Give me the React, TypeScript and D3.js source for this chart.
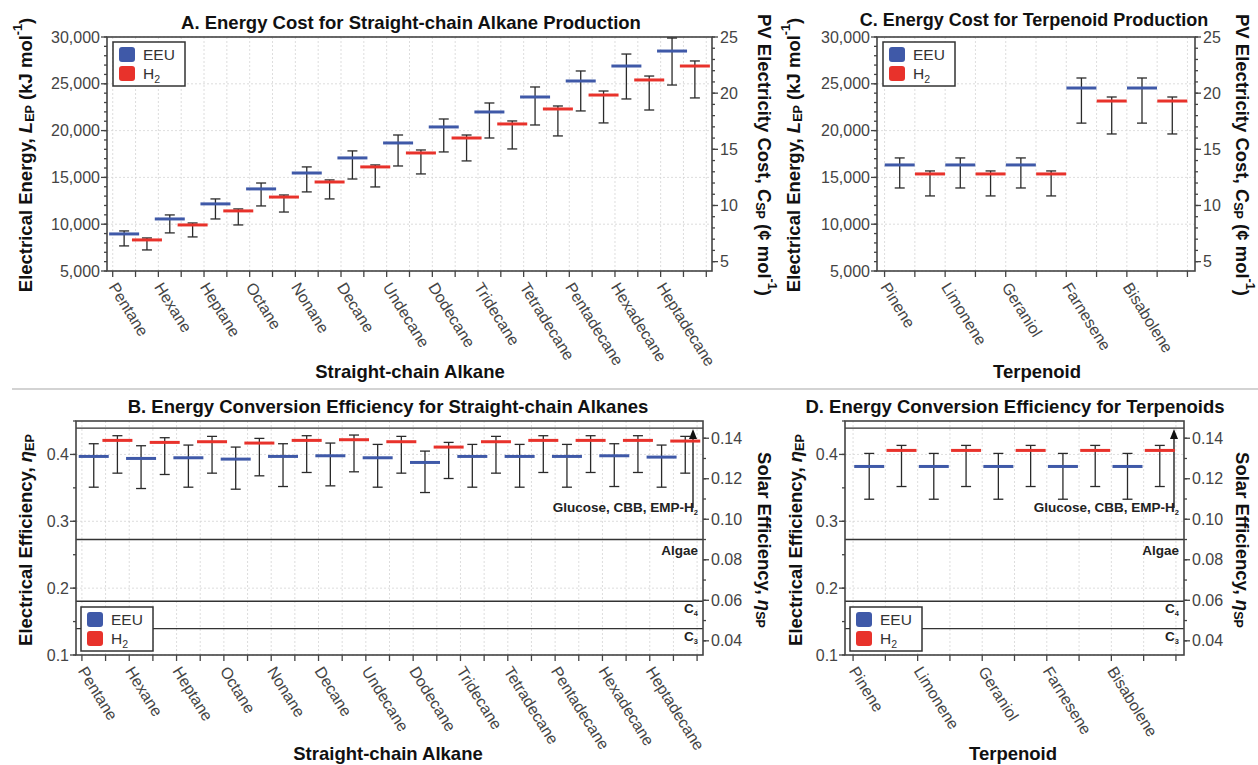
import { useEffect, useRef } from "react";
import * as d3 from "d3";

const alkanes = ["Pentane", "Hexane", "Heptane", "Octane", "Nonane", "Decane", "Undecane", "Dodecane", "Tridecane", "Tetradecane", "Pentadecane", "Hexadecane", "Heptadecane"];
const terpenoids = ["Pinene", "Limonene", "Geraniol", "Farnesene", "Bisabolene"];

// A. electrical energy (kJ/mol)
const alkEeuEnergy = [8960, 10560, 12170, 13770, 15470, 17080, 18680, 20390, 21990, 23590, 25300, 26900, 28500];
const alkEeuEnergyHi = [9280, 10990, 12700, 14400, 16120, 17830, 19530, 21240, 22950, 24660, 26370, 28180, 29890];
const alkEeuEnergyLo = [7680, 9070, 10560, 11950, 13450, 14830, 16220, 17720, 19210, 20600, 22100, 23380, 24870];
const alkH2Energy = [8320, 9920, 11420, 12900, 14510, 16120, 17610, 19210, 20710, 22310, 23800, 25410, 26900];
const alkH2EnergyHi = [8530, 10130, 11630, 13120, 14730, 16330, 17930, 19530, 21030, 22630, 24230, 25830, 27440];
const alkH2EnergyLo = [7250, 8640, 9920, 11300, 12700, 13980, 15370, 16760, 18040, 19430, 20820, 22200, 23490];

// B. electrical efficiency
const alkEeuEff = [0.397, 0.394, 0.395, 0.393, 0.397, 0.398, 0.395, 0.388, 0.397, 0.397, 0.397, 0.398, 0.396];
const alkEeuEffHi = [0.416, 0.413, 0.414, 0.411, 0.416, 0.417, 0.415, 0.405, 0.415, 0.415, 0.415, 0.416, 0.414];
const alkEeuEffLo = [0.351, 0.349, 0.351, 0.348, 0.352, 0.353, 0.351, 0.343, 0.351, 0.351, 0.351, 0.352, 0.351];
const alkH2Eff = [0.421, 0.418, 0.419, 0.417, 0.421, 0.422, 0.419, 0.411, 0.419, 0.421, 0.421, 0.421, 0.420];
const alkH2EffHi = [0.428, 0.425, 0.427, 0.424, 0.428, 0.429, 0.427, 0.418, 0.427, 0.428, 0.428, 0.428, 0.427];
const alkH2EffLo = [0.372, 0.370, 0.372, 0.368, 0.373, 0.374, 0.372, 0.364, 0.372, 0.373, 0.373, 0.373, 0.372];

// C. terpenoid energy
const terEeuEnergy = [16330, 16330, 16330, 24550, 24550];
const terEeuEnergyHi = [17080, 17080, 17080, 25620, 25620];
const terEeuEnergyLo = [13870, 13870, 13870, 20800, 20800];
const terH2Energy = [15370, 15370, 15370, 23160, 23160];
const terH2EnergyHi = [15690, 15690, 15690, 23590, 23590];
const terH2EnergyLo = [13020, 13020, 13020, 19640, 19640];

// D. terpenoid efficiency
const terEeuEff = [0.382, 0.382, 0.382, 0.382, 0.382];
const terEeuEffHi = [0.4015, 0.4015, 0.4015, 0.4015, 0.4015];
const terEeuEffLo = [0.333, 0.333, 0.333, 0.333, 0.333];
const terH2Eff = [0.406, 0.406, 0.406, 0.406, 0.406];
const terH2EffHi = [0.4135, 0.4135, 0.4135, 0.4135, 0.4135];
const terH2EffLo = [0.352, 0.352, 0.352, 0.352, 0.352];

// solar efficiency reference lines
const refNames = ["Glucose, CBB, EMP-H", "Algae", "C", "C"];
const refSubs = ["2", "", "4", "3"];
const refValues = [0.145, 0.09, 0.0595, 0.046];

const energyTicks = [5000, 10000, 15000, 20000, 25000, 30000];
const costTicks = [5, 10, 15, 20, 25];
const effTicks = [0.1, 0.2, 0.3, 0.4];
const solarTicks = [0.04, 0.06, 0.08, 0.1, 0.12, 0.14];

const BLUE = "#3f59a8";
const RED = "#e8322b";
const INK = "#2a2a2a";
const FONT = "'Liberation Sans', Arial, Helvetica, sans-serif";
const TICK_FS = 16;
const HEAD_FS = 18.5;

type Piece = { t: string; it?: boolean; sub?: boolean; sup?: boolean };

function richText(sel: any, pieces: Piece[], size: number) {
  let shift = 0;
  pieces.forEach((p) => {
    const ts = sel.append("tspan").text(p.t);
    let target = 0;
    if (p.sub) target = size * 0.28;
    if (p.sup) target = -size * 0.4;
    if (target !== shift) {
      ts.attr("dy", target - shift);
      shift = target;
    }
    if (p.sub || p.sup) ts.attr("font-size", size * 0.68);
    if (p.it) ts.attr("font-style", "italic");
  });
}

function drawPanel(svg: any, cfg: any) {
  const n = cfg.cats.length;
  const slots = n * 2;
  const x = d3.scaleLinear().domain([-0.25, slots + 0.25]).range([cfg.left, cfg.right]);
  const y = d3.scaleLinear().domain(cfg.yDomain).range([cfg.bottom, cfg.top]);
  const y2 = d3.scaleLinear().domain(cfg.y2Domain).range([cfg.bottom, cfg.top]);
  const g = svg.append("g").attr("font-family", FONT);

  // grid
  const grid = g.append("g").attr("stroke", "#d4d4d4").attr("stroke-width", 0.8).attr("stroke-dasharray", "2,2");
  d3.range(0, slots + 1).forEach((i) => {
    grid.append("line").attr("x1", x(i)).attr("x2", x(i)).attr("y1", cfg.top).attr("y2", cfg.bottom);
  });
  cfg.yTicks.forEach((v: number) => {
    grid.append("line").attr("x1", cfg.left).attr("x2", cfg.right).attr("y1", y(v)).attr("y2", y(v));
  });

  // reference lines (solar efficiency)
  if (cfg.refs) {
    refValues.forEach((v, i) => {
      g.append("line").attr("x1", cfg.left).attr("x2", cfg.right).attr("y1", y2(v)).attr("y2", y2(v))
        .attr("stroke", "#333").attr("stroke-width", 1.4);
      const t = g.append("text").attr("x", cfg.right - 5).attr("y", y2(v) + (i === 0 ? 84 : i === 1 ? 15 : 12))
        .attr("text-anchor", "end").attr("font-size", 13.5).attr("font-weight", "bold").attr("fill", "#222");
      richText(t, [{ t: refNames[i] }, { t: refSubs[i], sub: true }], 11);
    });
    const ax = cfg.right - 10;
    g.append("line").attr("x1", ax).attr("x2", ax).attr("y1", y2(refValues[0]) + 80).attr("y2", y2(refValues[0]) + 8)
      .attr("stroke", "#111").attr("stroke-width", 1.3);
    g.append("path")
      .attr("d", `M${ax},${y2(refValues[0]) + 1}L${ax - 4},${y2(refValues[0]) + 11}L${ax + 4},${y2(refValues[0]) + 11}Z`)
      .attr("fill", "#111");
  }

  // frame
  g.append("rect").attr("x", cfg.left).attr("y", cfg.top).attr("width", cfg.right - cfg.left).attr("height", cfg.bottom - cfg.top)
    .attr("fill", "none").attr("stroke", "#444").attr("stroke-width", 1.6);

  // bars with error bars
  const series = [
    { v: cfg.eeu, hi: cfg.eeuHi, lo: cfg.eeuLo, c: BLUE, off: 0.5 },
    { v: cfg.h2, hi: cfg.h2Hi, lo: cfg.h2Lo, c: RED, off: 1.5 },
  ];
  series.forEach((s) => {
    cfg.cats.forEach((_: string, i: number) => {
      const cx = x(i * 2 + s.off);
      const eg = g.append("g").attr("stroke", INK).attr("stroke-width", 1.3);
      eg.append("line").attr("x1", cx).attr("x2", cx).attr("y1", y(s.hi[i])).attr("y2", y(s.lo[i]));
      eg.append("line").attr("x1", cx - 5).attr("x2", cx + 5).attr("y1", y(s.hi[i])).attr("y2", y(s.hi[i]));
      eg.append("line").attr("x1", cx - 5).attr("x2", cx + 5).attr("y1", y(s.lo[i])).attr("y2", y(s.lo[i]));
      g.append("line").attr("x1", cx - 15).attr("x2", cx + 15).attr("y1", y(s.v[i])).attr("y2", y(s.v[i]))
        .attr("stroke", s.c).attr("stroke-width", 3);
    });
  });

  // left axis
  const ax = g.append("g").attr("stroke", "#444").attr("stroke-width", 1.3);
  cfg.yMinor.forEach((v: number) => {
    ax.append("line").attr("x1", cfg.left - 3).attr("x2", cfg.left).attr("y1", y(v)).attr("y2", y(v));
  });
  cfg.yTicks.forEach((v: number) => {
    ax.append("line").attr("x1", cfg.left - 6).attr("x2", cfg.left).attr("y1", y(v)).attr("y2", y(v));
    g.append("text").attr("x", cfg.left - 7).attr("y", y(v)).attr("dy", "0.35em").attr("text-anchor", "end")
      .attr("font-size", TICK_FS).attr("fill", "#444").text(cfg.fmt(v));
  });
  // right axis
  cfg.y2Minor.forEach((v: number) => {
    ax.append("line").attr("x1", cfg.right).attr("x2", cfg.right + 3).attr("y1", y2(v)).attr("y2", y2(v));
  });
  cfg.y2Ticks.forEach((v: number) => {
    ax.append("line").attr("x1", cfg.right).attr("x2", cfg.right + 6).attr("y1", y2(v)).attr("y2", y2(v));
    g.append("text").attr("x", cfg.right + 8).attr("y", y2(v)).attr("dy", "0.35em")
      .attr("font-size", TICK_FS).attr("fill", "#444").text(cfg.fmt2(v));
  });
  // x ticks & labels
  d3.range(0, slots + 1).forEach((i) => {
    ax.append("line").attr("x1", x(i)).attr("x2", x(i)).attr("y1", cfg.bottom).attr("y2", cfg.bottom + 6);
  });
  cfg.cats.forEach((c: string, i: number) => {
    const tx = x(i * 2) + 5;
    const ty = cfg.bottom + 10;
    g.append("text").attr("transform", `translate(${tx},${ty}) rotate(58)`).attr("dominant-baseline", "hanging")
      .attr("font-size", TICK_FS).attr("fill", "#444").text(c);
  });

  // titles
  g.append("text").attr("x", cfg.titleX).attr("y", cfg.titleY).attr("text-anchor", "middle")
    .attr("font-size", cfg.titleFs || HEAD_FS).attr("font-weight", "bold").attr("fill", "#111").text(cfg.title);
  g.append("text").attr("x", cfg.xTitleX).attr("y", cfg.xTitleY).attr("text-anchor", "middle")
    .attr("font-size", HEAD_FS).attr("font-weight", "bold").attr("fill", "#111").text(cfg.xTitle);
  const lt = g.append("text").attr("transform", `translate(${cfg.leftLabelX},${cfg.labelY}) rotate(-90)`)
    .attr("text-anchor", "middle").attr("dominant-baseline", "central")
    .attr("font-size", HEAD_FS).attr("font-weight", "bold").attr("fill", "#111");
  richText(lt, cfg.leftLabel, HEAD_FS);
  const rt = g.append("text").attr("transform", `translate(${cfg.rightLabelX},${cfg.labelY}) rotate(90)`)
    .attr("text-anchor", "middle").attr("dominant-baseline", "central")
    .attr("font-size", HEAD_FS).attr("font-weight", "bold").attr("fill", "#111");
  richText(rt, cfg.rightLabel, HEAD_FS);

  // legend
  const lg = g.append("g").attr("transform", `translate(${cfg.legendX},${cfg.legendY})`);
  lg.append("rect").attr("width", 72).attr("height", 44).attr("fill", "#fff").attr("stroke", "#333").attr("stroke-width", 1.5);
  [BLUE, RED].forEach((c, i) => {
    lg.append("rect").attr("x", 6).attr("y", 5 + i * 19).attr("width", 16).attr("height", 15).attr("rx", 3).attr("fill", c);
    const t = lg.append("text").attr("x", 30).attr("y", 18 + i * 19).attr("font-size", 15.5).attr("fill", "#333");
    richText(t, i === 0 ? [{ t: "EEU" }] : [{ t: "H" }, { t: "2", sub: true }], 15.5);
  });
}

const energyLeft: Piece[] = [{ t: "Electrical Energy, " }, { t: "L", it: true }, { t: "EP", sub: true }, { t: " (kJ mol" }, { t: "-1", sup: true }, { t: ")" }];
const costRight: Piece[] = [{ t: "PV Electricity Cost, " }, { t: "C", it: true }, { t: "SP", sub: true }, { t: " (¢ mol" }, { t: "-1", sup: true }, { t: ")" }];
const effLeft: Piece[] = [{ t: "Electrical Efficiency, " }, { t: "η", it: true }, { t: "EP", sub: true }];
const effRight: Piece[] = [{ t: "Solar Efficiency, " }, { t: "η", it: true }, { t: "SP", sub: true }];

const fmtEnergy = d3.format(",");
const fmtCost = (v: number) => String(v);
const fmtEff = (v: number) => String(v);
const fmtSolar = d3.format(".2f");

export default function App() {
  const ref = useRef<SVGSVGElement>(null);
  useEffect(() => {
    const svg = d3.select(ref.current);
    svg.selectAll("*").remove();
    svg.append("rect").attr("width", 1258).attr("height", 765).attr("fill", "#fff");
    svg.append("line").attr("x1", 12).attr("x2", 1258).attr("y1", 389).attr("y2", 389).attr("stroke", "#c4c4c4").attr("stroke-width", 1.5);

    const energyBase = {
      top: 37, bottom: 271, yDomain: [5000, 30000], y2Domain: [5000 / 1200, 25],
      yTicks: energyTicks, yMinor: d3.range(5000, 30001, 1000), y2Ticks: costTicks, y2Minor: d3.range(5, 26, 1),
      fmt: fmtEnergy, fmt2: fmtCost, titleY: 29, xTitleY: 378, labelY: 155,
      leftLabel: energyLeft, rightLabel: costRight, legendY: 42,
    };
    const effBase = {
      top: 421, bottom: 655, yDomain: [0.1, 0.45], y2Domain: [0.033, 0.1485],
      yTicks: effTicks, yMinor: d3.range(0.1, 0.451, 0.05), y2Ticks: solarTicks, y2Minor: d3.range(0.04, 0.1451, 0.01),
      fmt: fmtEff, fmt2: fmtSolar, titleY: 413, xTitleY: 760, labelY: 540, refs: true,
      leftLabel: effLeft, rightLabel: effRight, legendY: 607,
    };

    drawPanel(svg, {
      ...energyBase, left: 107, right: 712, cats: alkanes,
      eeu: alkEeuEnergy, eeuHi: alkEeuEnergyHi, eeuLo: alkEeuEnergyLo, h2: alkH2Energy, h2Hi: alkH2EnergyHi, h2Lo: alkH2EnergyLo,
      title: "A. Energy Cost for Straight-chain Alkane Production", titleX: 411, xTitle: "Straight-chain Alkane", xTitleX: 410,
      leftLabelX: 25, rightLabelX: 765, legendX: 113,
    });
    drawPanel(svg, {
      ...energyBase, left: 877, right: 1195, cats: terpenoids,
      eeu: terEeuEnergy, eeuHi: terEeuEnergyHi, eeuLo: terEeuEnergyLo, h2: terH2Energy, h2Hi: terH2EnergyHi, h2Lo: terH2EnergyLo,
      title: "C. Energy Cost for Terpenoid Production", titleX: 1034, titleY: 26, titleFs: 18, xTitle: "Terpenoid", xTitleX: 1037,
      leftLabelX: 793, rightLabelX: 1243, legendX: 883,
    });
    drawPanel(svg, {
      ...effBase, left: 76, right: 703, cats: alkanes,
      eeu: alkEeuEff, eeuHi: alkEeuEffHi, eeuLo: alkEeuEffLo, h2: alkH2Eff, h2Hi: alkH2EffHi, h2Lo: alkH2EffLo,
      title: "B. Energy Conversion Efficiency for Straight-chain Alkanes", titleX: 388, xTitle: "Straight-chain Alkane", xTitleX: 388,
      leftLabelX: 25, rightLabelX: 765, legendX: 81,
    });
    drawPanel(svg, {
      ...effBase, left: 845, right: 1184, cats: terpenoids,
      eeu: terEeuEff, eeuHi: terEeuEffHi, eeuLo: terEeuEffLo, h2: terH2Eff, h2Hi: terH2EffHi, h2Lo: terH2EffLo,
      title: "D. Energy Conversion Efficiency for Terpenoids", titleX: 1015, xTitle: "Terpenoid", xTitleX: 1013,
      leftLabelX: 795, rightLabelX: 1243, legendX: 850,
    });
  }, []);

  return (
    <div style={{ position: "absolute", left: 0, top: 0 }}>
      <svg ref={ref} width={1258} height={765} style={{ display: "block" }} />
    </div>
  );
}
